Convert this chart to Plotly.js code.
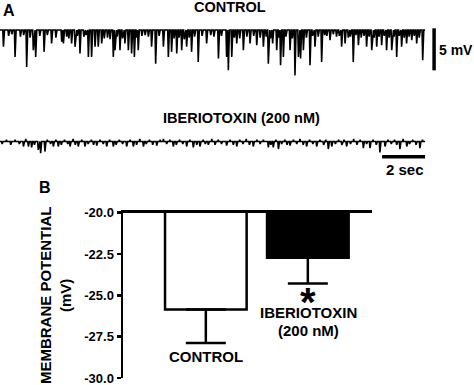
<!DOCTYPE html>
<html><head><meta charset="utf-8">
<script src="https://cdn.plot.ly/plotly-3.0.1.min.js"></script>
<style>html,body{margin:0;padding:0;background:#fff}#chart{width:474px;height:385px}</style>
</head><body><div id="chart"></div>
<script>
// Panel A: control recording, large events: times (s) and amplitudes (mV, relative to baseline)
const ctrlT = [0.16,0.70,1.24,1.55,1.66,2.05,2.40,2.87,2.95,3.33,3.49,3.72,4.11,4.26,4.42,4.57,4.73,5.27,5.35,5.58,
  5.81,5.97,6.12,6.25,6.43,7.05,7.24,7.60,7.83,7.98,8.22,8.45,8.68,8.91,9.22,9.61,10.16,10.54,10.62,10.78,
  11.01,11.32,11.63,11.94,12.25,12.48,12.68,12.87,13.05,13.18,13.49,13.72,13.88,13.98,14.11,14.42,14.65,14.96,15.35,15.89,
  16.05,16.43,16.67,17.05,17.29,17.52,17.75,17.98,18.22,18.45,18.68,18.91,19.15,19.38,19.66];
const ctrlAmp = [-2.0,-3.2,-4.4,-2.4,-3.2,-2.6,-1.6,-1.4,-1.6,-1.6,-2.0,-2.8,-3.2,-3.2,-2.0,-2.0,-1.6,-3.2,-2.4,-2.4,
  -1.6,-2.4,-2.8,-3.2,-2.4,-2.0,-4.0,-2.0,-3.2,-2.6,-2.8,-2.4,-2.0,-2.6,-3.8,-1.6,-3.4,-3.2,-4.8,-3.2,
  -1.6,-2.4,-1.6,-1.8,-2.0,-4.0,-1.6,-2.4,-4.2,-3.2,-2.4,-5.4,-3.2,-3.4,-2.4,-4.2,-2.0,-3.8,-1.2,-2.0,
  -1.6,-3.8,-1.8,-2.0,-2.4,-2.0,-1.8,-2.4,-2.4,-3.2,-2.0,-1.6,-1.2,-1.6,-3.6];
// control recording, small events in the baseline band
const ctrlSmallT = [0.40,0.55,0.95,1.10,1.40,1.85,2.20,2.60,3.10,3.20,3.60,3.90,4.00,4.85,5.00,5.12,5.45,5.70,6.35,6.60,
  6.75,6.90,7.40,8.10,8.33,8.57,8.80,9.05,9.40,9.80,9.95,10.30,10.90,11.15,11.48,11.80,12.10,12.38,12.58,12.97,
  13.30,13.60,14.25,14.54,14.80,15.10,15.20,15.50,15.65,15.78,16.20,16.30,16.55,16.80,16.93,17.17,17.40,17.63,17.87,18.10,
  18.33,18.57,18.80,19.03,19.27,19.50];
const ctrlSmallAmp = [-0.7,-0.5,-0.8,-0.6,-0.9,-0.7,-0.6,-0.9,-0.8,-1.0,-0.7,-0.8,-0.6,-1.0,-0.9,-1.1,-0.8,-1.0,-0.9,-0.7,
  -0.6,-0.8,-0.7,-1.0,-0.9,-1.1,-0.9,-0.8,-0.7,-0.6,-0.8,-0.7,-0.9,-1.0,-0.8,-0.7,-0.9,-0.8,-1.0,-0.9,
  -0.8,-1.0,-0.9,-0.7,-0.8,-0.6,-0.7,-0.5,-0.8,-0.7,-0.9,-0.8,-0.6,-0.9,-0.7,-0.8,-0.9,-0.8,-0.7,-0.9,
  -0.8,-0.7,-0.9,-0.8,-0.7,-0.9];
// Panel A: iberiotoxin recording, visible events
const iberT = [1.09,1.32,1.47,1.78,1.89,2.09,2.48,2.71,3.26,3.64,3.95,4.50,4.96,5.27,5.89,6.20,6.67,7.29,8.06,8.68,
  8.99,9.30,9.69,10.54,11.01,11.78,12.48,12.71,12.95,13.49,14.26,14.73,15.27,15.43,16.12,16.90,17.21,17.67,17.91,18.60,
  18.92,19.53];
const iberAmp = [-0.6,-0.6,-0.7,-1.0,-1.4,-1.2,-0.6,-0.6,-0.6,-0.6,-0.6,-0.5,-0.6,-0.6,-0.6,-0.6,-0.6,-0.5,-0.6,-0.6,
  -0.7,-0.6,-0.4,-0.5,-0.6,-0.6,-0.7,-0.7,-0.9,-0.5,-0.6,-0.6,-0.9,-0.6,-0.6,-0.8,-0.8,-1.3,-0.6,-0.9,
  -0.6,-0.8];
// iberiotoxin recording, baseline jitter
const iberNoiseT = [0.10,0.30,0.50,0.70,0.90,1.20,1.60,2.20,2.35,2.60,2.85,3.00,3.15,3.40,3.50,3.80,4.10,4.25,4.35,4.65,
  4.80,5.10,5.40,5.55,5.70,6.05,6.35,6.50,6.80,6.95,7.10,7.45,7.60,7.75,7.90,8.20,8.35,8.50,8.83,9.15,
  9.45,9.55,9.85,10.00,10.15,10.30,10.70,10.85,11.15,11.30,11.45,11.60,11.95,12.10,12.25,12.60,12.83,13.10,13.25,13.35,
  13.65,13.80,13.95,14.10,14.40,14.55,14.88,15.05,15.15,15.60,15.75,15.90,16.00,16.30,16.45,16.60,16.75,17.05,17.35,17.50,
  18.05,18.20,18.35,18.45,18.75,19.05,19.20,19.35,19.65];
const iberNoiseAmp = [-0.3,0.2,-0.4,0.2,-0.3,0.3,-0.4,0.2,-0.3,0.2,-0.4,0.2,-0.3,0.3,-0.4,0.2,-0.3,0.2,-0.4,0.2,
  -0.3,0.2,-0.4,0.2,-0.3,0.2,-0.4,0.3,-0.3,0.2,-0.4,0.2,0.3,-0.3,0.2,-0.4,0.2,-0.3,0.2,-0.4,
  0.2,-0.3,0.3,-0.4,0.2,-0.3,0.2,-0.4,0.2,-0.3,0.3,-0.4,0.2,-0.3,0.2,-0.4,0.2,-0.3,0.2,-0.4,
  0.2,-0.3,0.3,-0.4,0.2,-0.3,0.2,-0.4,0.2,-0.3,0.2,-0.4,0.2,-0.3,0.3,-0.4,0.2,-0.3,0.2,-0.4,
  0.2,-0.3,0.2,-0.4,0.3,-0.3,0.2,-0.4,0.2];
const traceEnd = 19.77;           // s
const mvBarX = [20.19, 20.19];    // 5 mV scale bar
const mvBarY = [0.2, -4.8];
const secBarX = [17.77, 19.77];   // 2 s scale bar
const secBarY = [-1.81, -1.81];

// Panel B
const categories = ['CONTROL', 'IBERIOTOXIN (200 nM)'];
const potential = [-25.85, -22.73];
const sem = [2.03, 1.55];
const yTicks = [-30, -27.5, -25, -22.5, -20];

function build(tA, aA, tB, aB, tEnd) {
  const ev = [];
  tA.forEach((t, i) => ev.push([t, aA[i]]));
  tB.forEach((t, i) => ev.push([t, aB[i]]));
  ev.sort((p, q) => p[0] - q[0]);
  const x = [0], y = [0];
  ev.forEach(([t, a]) => {
    if (a < 0) { x.push(t - 0.03, t, t + 0.05); y.push(0, a, 0); }
    else { x.push(t - 0.02, t, t + 0.02); y.push(0, a, 0); }
  });
  x.push(tEnd); y.push(0);
  return {x, y};
}
const c = build(ctrlT, ctrlAmp, ctrlSmallT, ctrlSmallAmp, traceEnd);
const ib = build(iberT, iberAmp, iberNoiseT, iberNoiseAmp, traceEnd);

const data = [
  {type: 'scatter', mode: 'lines', x: c.x, y: c.y, line: {color: 'black', width: 1.6}, xaxis: 'x', yaxis: 'y'},
  {type: 'scatter', mode: 'lines', x: mvBarX, y: mvBarY, line: {color: 'black', width: 3.5}, xaxis: 'x', yaxis: 'y'},
  {type: 'scatter', mode: 'lines', x: ib.x, y: ib.y, line: {color: 'black', width: 1.6}, xaxis: 'x2', yaxis: 'y2'},
  {type: 'scatter', mode: 'lines', x: secBarX, y: secBarY, line: {color: 'black', width: 3.5}, xaxis: 'x2', yaxis: 'y2'},
  {type: 'bar', x: [0, 1], y: potential, width: 0.8, xaxis: 'x3', yaxis: 'y3',
   marker: {color: ['white', 'black'], line: {color: 'black', width: 2.5}},
   error_y: {type: 'data', symmetric: false, array: [0, 0], arrayminus: sem, color: 'black', thickness: 2.5, width: 20}}
];

const W = 474, H = 385;
const px = v => v / W, py = v => 1 - v / H;
const F = (s) => ({family: 'Liberation Sans, Arial, sans-serif', size: s, color: 'black', weight: 'bold'});
function ann(text, x, y, size, xa, extra) {
  return Object.assign({text, x: px(x), y: py(y), xref: 'paper', yref: 'paper', showarrow: false,
    xanchor: xa || 'center', yanchor: 'middle', font: F(size)}, extra || {});
}

const layout = {
  width: W, height: H, margin: {l: 0, r: 0, t: 0, b: 0},
  paper_bgcolor: 'white', plot_bgcolor: 'rgba(0,0,0,0)', showlegend: false,
  xaxis: {domain: [0, 1], range: [0, W / 21.5], visible: false, anchor: 'y'},
  yaxis: {domain: [py(80), py(20)], range: [-5.95, 1.19], visible: false, anchor: 'x'},
  xaxis2: {domain: [0, 1], range: [0, W / 21.5], visible: false, anchor: 'y2'},
  yaxis2: {domain: [py(165), py(125)], range: [-2.80, 1.96], visible: false, anchor: 'x2'},
  xaxis3: {domain: [px(123), px(371.7)], range: [-0.812, 1.626], side: 'top', anchor: 'y3',
    showline: true, linecolor: 'black', linewidth: 2.5, showticklabels: false, ticks: '',
    showgrid: false, zeroline: false},
  yaxis3: {domain: [py(378.3), py(212.7)], range: [-30.02, -20], anchor: 'x3',
    tickvals: yTicks, ticktext: yTicks.map(v => v.toFixed(1)), ticks: 'outside', ticklen: 4, tickwidth: 2.5,
    tickcolor: 'black', showline: true, linecolor: 'black', linewidth: 2.5, showgrid: false, zeroline: false,
    tickfont: F(13), ticklabeloverflow: 'allow'},
  annotations: [
    ann('A', 9, 10, 16),
    ann('CONTROL', 230, 7.5, 14.5),
    ann('5 mV', 437, 50, 14, 'left'),
    ann('IBERIOTOXIN (200 nM)', 241, 117.5, 14.5),
    ann('2 sec', 405, 170, 15),
    ann('B', 45, 187, 16),
    ann('MEMBRANE POTENTIAL<br>(mV)', 55.6, 295.5, 15, 'center', {textangle: -90}),
    ann('CONTROL', 205.5, 356.7, 15),
    ann('IBERIOTOXIN', 308, 312.7, 15),
    ann('(200 nM)', 308, 330.7, 15),
    ann('*', 307.7, 302, 40)
  ]
};
Plotly.newPlot('chart', data, layout, {staticPlot: true, displayModeBar: false});
</script></body></html>
